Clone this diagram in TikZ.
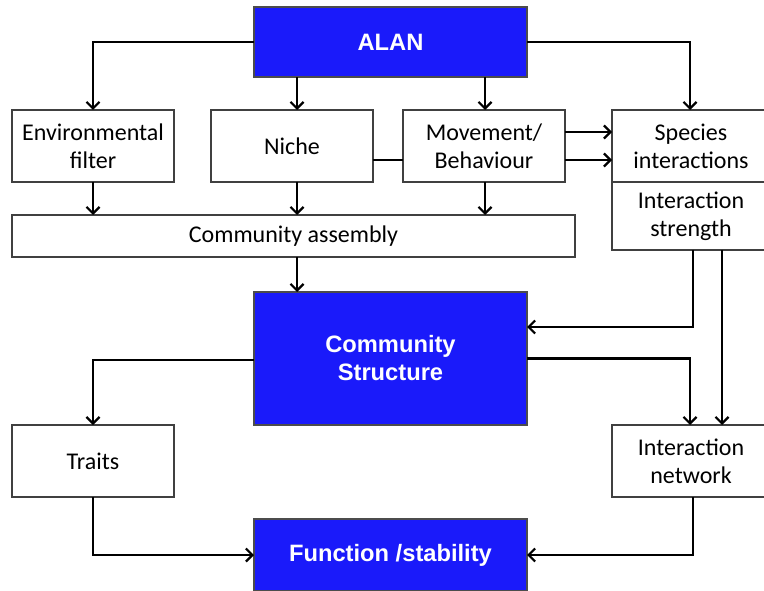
\documentclass[tikz,border=0pt]{standalone}
\usepackage{fontspec}
\setmainfont{Carlito}
\newfontfamily\boldsans{Liberation Sans}
\usetikzlibrary{arrows.meta}
\definecolor{alanblue}{RGB}{26,26,250}

\begin{document}
\begin{tikzpicture}[
      x=1pt, y=-1pt,
      box/.style={draw=black!75,line width=1.2pt,fill=white,align=center,inner sep=0pt,outer sep=0pt,font=\fontsize{24}{28}\selectfont},
      bluebox/.style={box,fill=alanblue,draw=black!70,text=white,font=\boldsans\bfseries\fontsize{23.7}{28}\selectfont},
      link/.style={line width=2.2pt,->,>={Straight Barb[length=6.5pt,width=13pt,line width=2.2pt]}},
      plain/.style={line width=2.2pt}
    ]
    \useasboundingbox (0,0) rectangle (764,591);
    % Draw the blue boxes.
    \node[bluebox,minimum width=273pt,minimum height=70pt]  (alan)      at (390.5,42)    {ALAN};
    \node[bluebox,minimum width=273pt,minimum height=133pt] (structure) at (390.5,358.5) {Community\\Structure};
    \node[bluebox,minimum width=273pt,minimum height=72pt]  (function)  at (390.5,555)   {Function /stability};
    % Draw the white boxes.
    \node[box,minimum width=162pt,minimum height=72pt] (env)      at (93,146)  {Environmental\\filter};
    \node[box,minimum width=162pt,minimum height=72pt] (niche)    at (292,146) {Niche};
    \node[box,minimum width=162pt,minimum height=72pt] (movement) at (484,146) {Movement/\\Behaviour};
    \node[box,minimum width=158pt,minimum height=72pt] (species)  at (691,146) {Species\\interactions};
    \node[box,minimum width=158pt,minimum height=68pt] (strength) at (691,216) {Interaction\\strength};
    \node[box,minimum width=563pt,minimum height=42pt] (assembly) at (293.5,236) {Community assembly};
    \node[box,minimum width=162pt,minimum height=72pt] (traits)   at (93,461)  {Traits};
    \node[box,minimum width=158pt,minimum height=72pt] (network)  at (691,461) {Interaction\\network};
    % Draw the links out of ALAN.
    \draw[link] (alan.west) -| (env.north);
    \draw[link] ([xshift=5pt]niche.north |- alan.south) -- ([xshift=5pt]niche.north);
    \draw[link] ([xshift=1pt]movement.north |- alan.south) -- ([xshift=1pt]movement.north);
    \draw[link] (alan.east) -| ([xshift=-1pt]species.north);
    \draw[plain] ([yshift=-14pt]niche.east) -- ([yshift=-14pt]movement.west);
    \draw[link] ([yshift=14pt]movement.east) -- ([yshift=14pt]species.west);
    \draw[link] ([yshift=-14pt]movement.east) -- ([yshift=-14pt]species.west);
    % Draw the links into the assembly.
    \draw[link] (env.south) -- (env.south |- assembly.north);
    \draw[link] ([xshift=5pt]niche.south) -- ([xshift=5pt]niche.south |- assembly.north);
    \draw[link] ([xshift=1pt]movement.south) -- ([xshift=1pt]movement.south |- assembly.north);
    \draw[link] ([xshift=3.5pt]assembly.south) -- ([xshift=3.5pt]assembly.south |- structure.north);
    % Draw the links out of the interaction strength.
    \draw[link] ([xshift=2pt]strength.south) |- ([yshift=31.5pt]structure.east);
    \draw[link] ([xshift=31pt]strength.south) -- ([xshift=31pt]strength.south |- network.north);
    % Draw the links out of the community structure.
    \draw[link] ([yshift=-1.5pt]structure.west) -| (traits.north);
    \draw[link] (structure.east) -| ([xshift=-1pt]network.north);
    \draw[link] (traits.south) |- (function.west);
    \draw[link] ([xshift=2pt]network.south) |- (function.east);
    \end{tikzpicture}
\end{document}
